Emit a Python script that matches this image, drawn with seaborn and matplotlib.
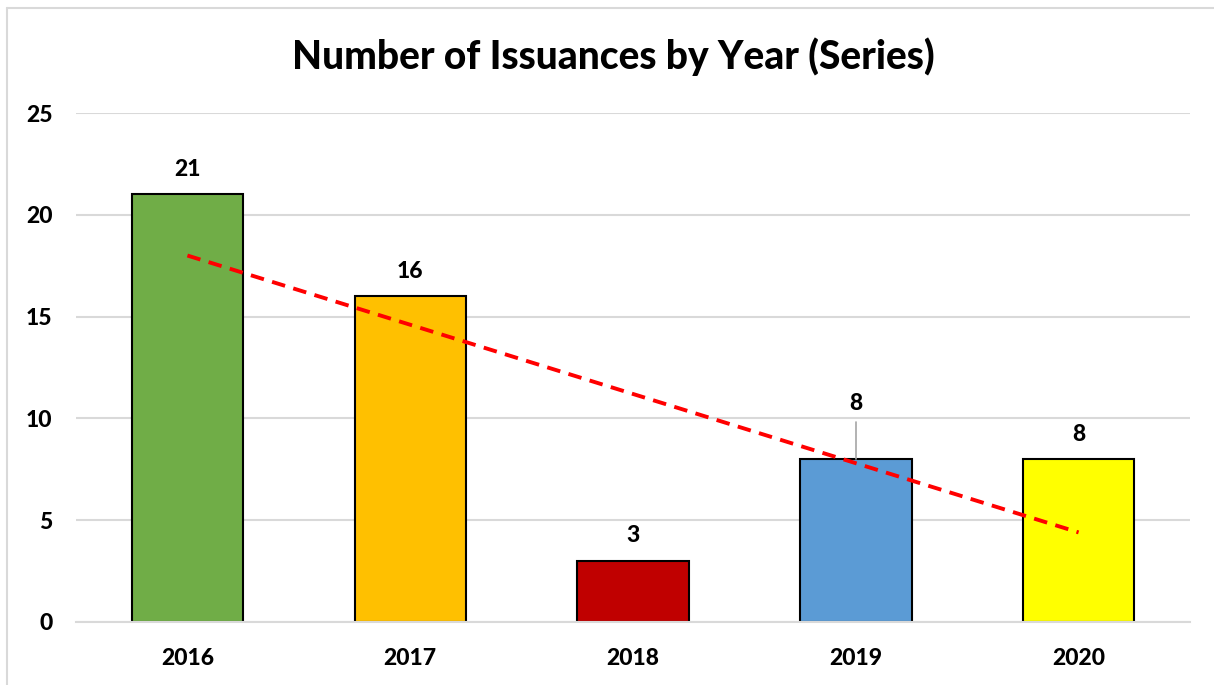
import matplotlib
matplotlib.use('Agg')

import numpy as np
import pandas as pd
import matplotlib.pyplot as plt
from matplotlib.lines import Line2D
import seaborn as sns

# data
years = ["2016", "2017", "2018", "2019", "2020"]
issuances = [21, 16, 3, 8, 8]
bar_colors = ["#70AD47", "#FFC000", "#C00000", "#5B9BD5", "#FFFF00"]

df = pd.DataFrame({"year": years, "count": issuances})

sns.set_style("white")
plt.rcParams['font.family'] = ['Lato', 'DejaVu Sans']
plt.rcParams['text.color'] = 'black'
plt.rcParams['xtick.color'] = 'black'
plt.rcParams['ytick.color'] = 'black'

fig = plt.figure(figsize=(12.14, 6.85), dpi=100)
ax = fig.add_axes([76 / 1214, 63 / 685, 1114 / 1214, 509 / 685])

sns.barplot(data=df, x="year", y="count", hue="year", palette=bar_colors,
            saturation=1, width=0.5, edgecolor="black", linewidth=1.5,
            legend=False, ax=ax)

# linear trend line
xs = np.arange(len(years))
z = np.polyfit(xs, issuances, 1)
ax.plot(xs, np.poly1d(z)(xs), color="#FF0000", linewidth=2.8,
        linestyle=(0, (3.5, 2.2)), zorder=5)

# data labels
for i, v in enumerate(issuances):
    if i == 3:
        # label moved up with a leader line (Excel style)
        ax.plot([i, i], [v, v + 1.8], color="#A6A6A6", linewidth=1.2, zorder=4)
        ax.annotate(str(v), (i, v), xytext=(0, 40), textcoords="offset points",
                    ha="center", va="center", fontsize=16.5, fontweight="black")
    else:
        ax.annotate(str(v), (i, v), xytext=(0, 18), textcoords="offset points",
                    ha="center", va="center", fontsize=16.5, fontweight="black")

ax.set_xlim(-0.5, 4.5)
ax.set_ylim(0, 25)
ax.set_yticks([0, 5, 10, 15, 20, 25])
ax.yaxis.grid(True, color="#D9D9D9", linewidth=1.5)
ax.set_axisbelow(True)
for s in ["top", "right", "left"]:
    ax.spines[s].set_visible(False)
ax.spines["bottom"].set_color("#D9D9D9")
ax.spines["bottom"].set_linewidth(1.5)
ax.tick_params(axis="both", length=0, labelsize=16.5)
ax.tick_params(axis="x", pad=19)
ax.tick_params(axis="y", pad=17)
for lbl in ax.get_xticklabels() + ax.get_yticklabels():
    lbl.set_fontweight("black")
ax.set_xlabel("")
ax.set_ylabel("")

fig.text(0.505, 1 - 57 / 685, "Number of Issuances by Year (Series)",
         ha="center", va="center", fontsize=28, fontweight="black")

# chart border (left and top visible)
fig.add_artist(Line2D([7 / 1214, 7 / 1214], [0, 1 - 8 / 685], color="#D9D9D9",
                      linewidth=1.5, transform=fig.transFigure))
fig.add_artist(Line2D([7 / 1214, 1], [1 - 8 / 685, 1 - 8 / 685], color="#D9D9D9",
                      linewidth=1.5, transform=fig.transFigure))

fig.savefig("out.png", dpi=100)
plt.close()
